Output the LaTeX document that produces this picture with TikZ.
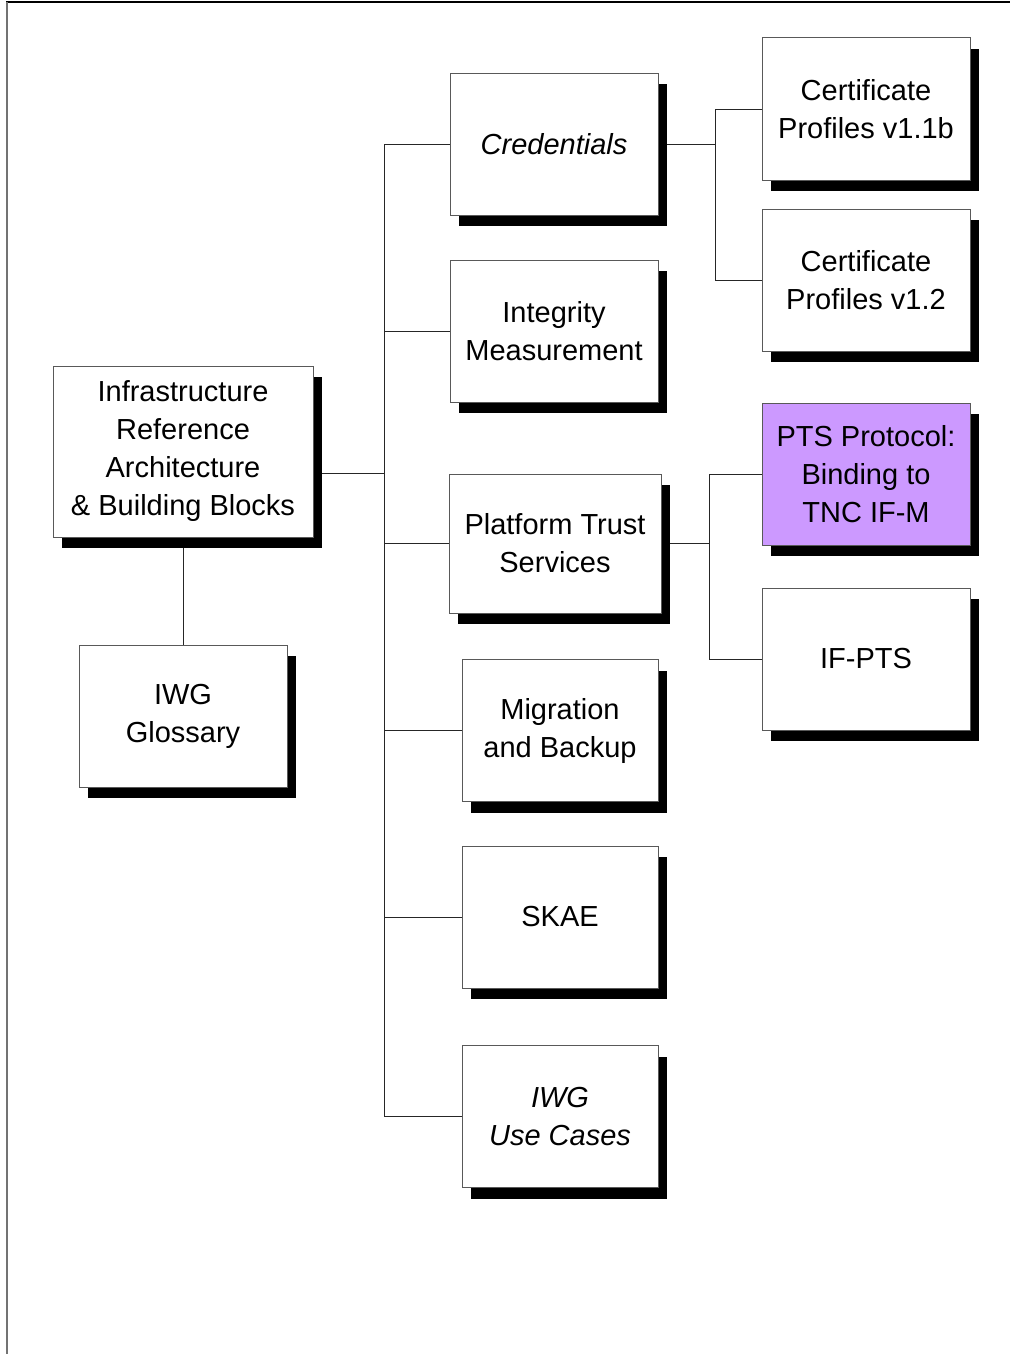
\documentclass[tikz,border=0pt]{standalone}
\usepackage{fontspec}
\setmainfont{Liberation Sans}
\usetikzlibrary{shadows,backgrounds}
\definecolor{ptsviolet}{RGB}{204,153,255}
\tikzset{
  block/.style={draw=black!65, line width=1pt, fill=white, inner sep=0pt,
    align=center, font=\fontsize{29}{38}\selectfont,
    drop shadow={shadow xshift=9pt, shadow yshift=-11pt, fill=black, opacity=1}},
  link/.style={draw=black!85, line width=1pt}
}
\begin{document}
\begin{tikzpicture}[x=1pt, y=-1pt]
\useasboundingbox (0,0) rectangle (1010,1354);
% page frame
\draw[black, line width=1.5pt] (6,2) -- (1010,2);
\draw[black!55, line width=2pt] (6.5,2) -- (6.5,1354);

% junction columns
\coordinate (tk) at (384,0);
\coordinate (ij) at (384,473);
\coordinate (cj) at (715,0);
\coordinate (pj) at (709,0);

% boxes
\path
  node[block, minimum width=260pt, minimum height=171pt] (infra) at (183,451.5)
    {Infrastructure\\Reference\\Architecture\\\& Building Blocks}
  node[block, minimum width=208pt, minimum height=142pt] (gloss) at (183,716)
    {IWG\\Glossary}
  node[block, minimum width=208pt, minimum height=142pt] (cred) at (554,144)
    {\itshape Credentials}
  node[block, minimum width=208pt, minimum height=142pt] (integ) at (554,331)
    {Integrity\\Measurement}
  node[block, minimum width=212pt, minimum height=139pt] (pts) at (555,543.5)
    {Platform Trust\\Services}
  node[block, minimum width=196pt, minimum height=142pt] (migr) at (560,730.5)
    {Migration\\and Backup}
  node[block, minimum width=196pt, minimum height=142pt] (skae) at (560,917)
    {SKAE}
  node[block, minimum width=196pt, minimum height=142pt] (cases) at (560,1116.5)
    {\itshape IWG\\\itshape Use Cases}
  node[block, minimum width=208pt, minimum height=142pt] (cert11) at (866,109)
    {Certificate\\Profiles v1.1b}
  node[block, minimum width=208pt, minimum height=142pt] (cert12) at (866,280)
    {Certificate\\Profiles v1.2}
  node[block, fill=ptsviolet, minimum width=208pt, minimum height=142pt] (ptsprot) at (866,474)
    {PTS Protocol:\\Binding to\\TNC IF-M}
  node[block, minimum width=208pt, minimum height=142pt] (ifpts) at (866,659)
    {IF-PTS};

% connectors, behind the boxes and their shadows
\begin{scope}[on background layer]
  % main trunk
  \draw[link] (cred.west -| tk) -- (cases.west -| tk);
  \draw[link] (ij -| infra.center) -- (ij);
  \draw[link] (infra.center) -- (gloss.center);
  \foreach \b in {cred, integ, pts, migr, skae, cases}
    \draw[link] (\b.west -| tk) -- (\b.west);
  % credentials branch
  \draw[link] (cred.center) -- (cred.center -| cj);
  \draw[link] (cert11.west -| cj) -- (cert12.west -| cj);
  \draw[link] (cert11.west -| cj) -- (cert11.west);
  \draw[link] (cert12.west -| cj) -- (cert12.west);
  % platform trust branch
  \draw[link] (pts.center) -- (pts.center -| pj);
  \draw[link] (ptsprot.west -| pj) -- (ifpts.west -| pj);
  \draw[link] (ptsprot.west -| pj) -- (ptsprot.west);
  \draw[link] (ifpts.west -| pj) -- (ifpts.west);
\end{scope}
\end{tikzpicture}
\end{document}
